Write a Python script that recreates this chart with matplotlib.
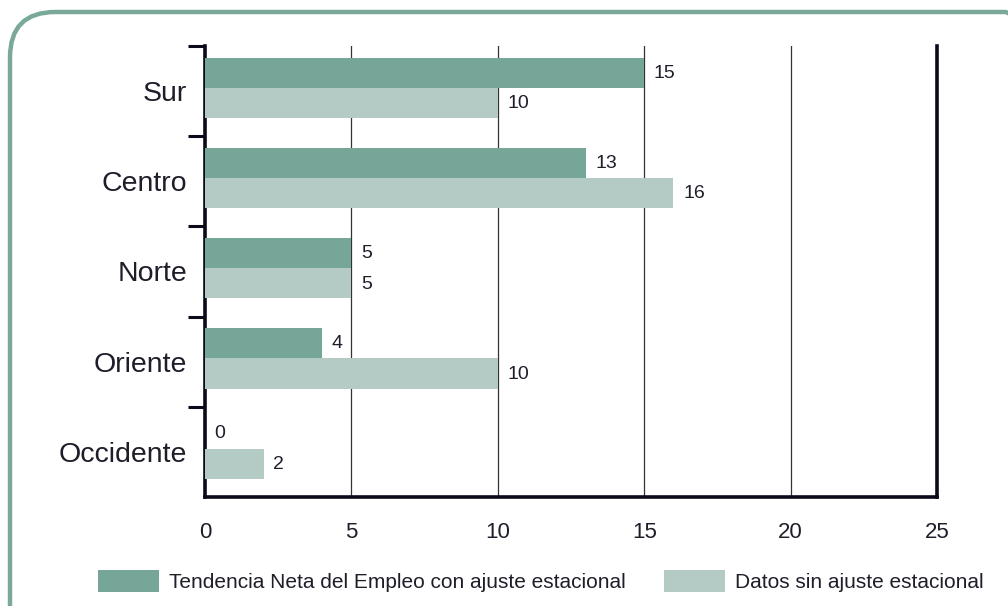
import matplotlib
matplotlib.use("Agg")
import matplotlib.pyplot as plt
from matplotlib.patches import FancyBboxPatch, Patch

categories = ["Sur", "Centro", "Norte", "Oriente", "Occidente"]
ajustada = [15, 13, 5, 4, 0]
sin_ajuste = [10, 16, 5, 10, 2]
series_names = ["Tendencia Neta del Empleo con ajuste estacional", "Datos sin ajuste estacional"]
xticks = [0, 5, 10, 15, 20, 25]

dark = "#76a698"
light = "#b4cbc5"
frame_col = "#7aa99b"
txt = "#1e1e2a"

plt.rcParams['font.family'] = ['Liberation Sans', 'DejaVu Sans']

fig = plt.figure(figsize=(10.08, 6.06), dpi=100)
W, H = 1008, 606

frame = FancyBboxPatch((10 / W, 1 - 660 / H), 1040 / W, 648 / H,
                       boxstyle="round,pad=0,rounding_size=0.045",
                       transform=fig.transFigure, fill=False,
                       edgecolor=frame_col, linewidth=3.2, mutation_aspect=W / H)
fig.patches.append(frame)

ax = fig.add_axes([205 / W, 1 - 497 / H, (937 - 205) / W, (497 - 46) / H])
ypos = list(range(len(categories)))
h = 0.335
ax.barh([y - 0.205 for y in ypos], ajustada, height=h, color=dark, zorder=3)
ax.barh([y + 0.13 for y in ypos], sin_ajuste, height=h, color=light, zorder=3)

for y, v in zip(ypos, ajustada):
    ax.text(v + 0.33, y - 0.2, str(v), va='center', ha='left', fontsize=14, color=txt)
for y, v in zip(ypos, sin_ajuste):
    ax.text(v + 0.33, y + 0.14, str(v), va='center', ha='left', fontsize=14, color=txt)

ax.set_xlim(0, 25)
ax.set_ylim(4.5, -0.5)
ax.set_xticks(xticks)
ax.set_xticklabels([str(t) for t in xticks], fontsize=16, color=txt)
ax.tick_params(axis='x', length=0, pad=18)
ax.set_yticks(ypos)
ax.set_yticklabels(categories, fontsize=20.5, color=txt)
ax.tick_params(axis='y', which='major', length=0, pad=13)
ax.set_yticks([-0.5, 0.5, 1.5, 2.5, 3.5], minor=True)
ax.tick_params(axis='y', which='minor', length=12.5, width=2.2, color='#0a0a1a')

for x in xticks[1:-1]:
    ax.axvline(x, color='#333333', linewidth=0.9, zorder=1)

for s in ['left', 'bottom', 'right']:
    ax.spines[s].set_linewidth(2.6)
    ax.spines[s].set_color('#0a0a1a')
ax.spines['top'].set_visible(False)

handles = [Patch(facecolor=dark, edgecolor='none'), Patch(facecolor=light, edgecolor='none')]
leg = fig.legend(handles, series_names, loc='center left', bbox_to_anchor=(98 / W, 1 - 581 / H),
                 ncol=2, frameon=False, fontsize=15, handlelength=2.95, handleheight=1.2,
                 columnspacing=1.8, handletextpad=0.48, borderpad=0, borderaxespad=0)
for t in leg.get_texts():
    t.set_color(txt)

fig.savefig("out.png", dpi=100)
